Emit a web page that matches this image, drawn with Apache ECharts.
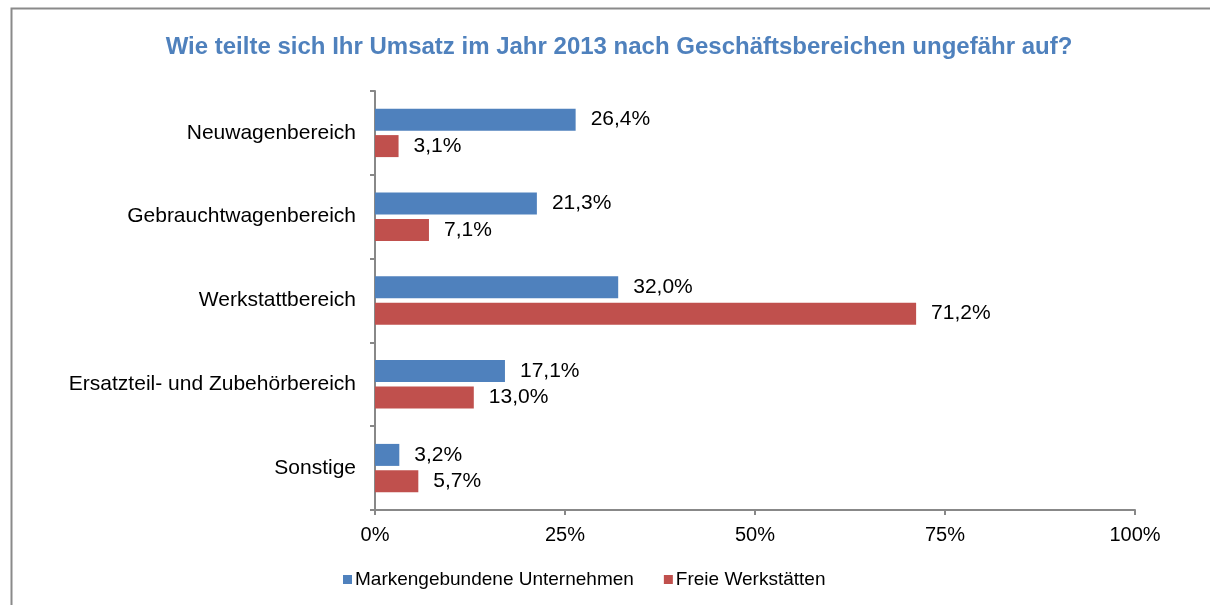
<!DOCTYPE html>
<html>
<head>
<meta charset="utf-8">
<script src="https://cdn.jsdelivr.net/npm/echarts@6/dist/echarts.min.js"></script>
<style>
  html, body { margin: 0; padding: 0; background: #fff; }
  #chart { width: 1210px; height: 605px; }
</style>
</head>
<body>
<div id="chart"></div>
<script>
// Umsatzverteilung nach Geschäftsbereichen 2013
const categories = ['Neuwagenbereich', 'Gebrauchtwagenbereich', 'Werkstattbereich', 'Ersatzteil- und Zubehörbereich', 'Sonstige'];
const markengebunden = [26.4, 21.3, 32.0, 17.1, 3.2];
const freie = [3.1, 7.1, 71.2, 13.0, 5.7];
const seriesNames = ['Markengebundene Unternehmen', 'Freie Werkstätten'];
const xTicks = [0, 25, 50, 75, 100];

const font = 'Arial, "Liberation Sans", sans-serif';
const fmt = v => v.toFixed(1).replace('.', ',') + '%';

const chart = echarts.init(document.getElementById('chart'));
chart.setOption({
  backgroundColor: '#fff',
  animation: false,
  textStyle: { fontFamily: font },
  graphic: [{
    type: 'rect', left: 9, top: 6, z: -1,
    shape: { width: 1400, height: 800 },
    style: { fill: 'none', stroke: '#8a8a8a', lineWidth: 2 }
  }],
  title: {
    text: 'Wie teilte sich Ihr Umsatz im Jahr 2013 nach Geschäftsbereichen ungefähr auf?',
    left: 614, top: 30, textAlign: 'center',
    textStyle: { color: '#4f81bd', fontSize: 24, fontWeight: 'bold', fontFamily: font }
  },
  legend: {
    top: 565, left: 338, itemGap: 30,
    itemWidth: 9, itemHeight: 9, icon: 'rect',
    textStyle: { color: '#000', fontSize: 19, fontFamily: font, padding: [0, 0, 0, -2] },
    data: seriesNames
  },
  grid: { left: 375, right: 75, top: 91, bottom: 95, containLabel: false },
  xAxis: {
    type: 'value', min: 0, max: 100, interval: 25,
    axisLine: { show: true, lineStyle: { color: '#888', width: 2 } },
    axisTick: { show: true, length: 5, lineStyle: { color: '#888', width: 2 } },
    splitLine: { show: false },
    axisLabel: {
      color: '#000', fontSize: 20, margin: 15, fontFamily: font,
      formatter: v => xTicks.includes(v) ? v + '%' : ''
    }
  },
  yAxis: {
    type: 'category', inverse: true, data: categories,
    axisLine: { show: true, lineStyle: { color: '#888', width: 2 } },
    axisTick: { show: true, length: 5, lineStyle: { color: '#888', width: 2 } },
    axisLabel: { color: '#000', fontSize: 21, margin: 19, fontFamily: font }
  },
  series: [
    {
      name: seriesNames[0], type: 'bar', data: markengebunden,
      barWidth: 22, barGap: '20%',
      itemStyle: { color: '#4f81bd' },
      label: { show: true, position: 'right', distance: 15, color: '#000', fontSize: 21, fontFamily: font, formatter: p => fmt(p.value) }
    },
    {
      name: seriesNames[1], type: 'bar', data: freie,
      barWidth: 22, barGap: '20%',
      itemStyle: { color: '#c0504d' },
      label: { show: true, position: 'right', distance: 15, color: '#000', fontSize: 21, fontFamily: font, formatter: p => fmt(p.value) }
    }
  ]
});
</script>
</body>
</html>
